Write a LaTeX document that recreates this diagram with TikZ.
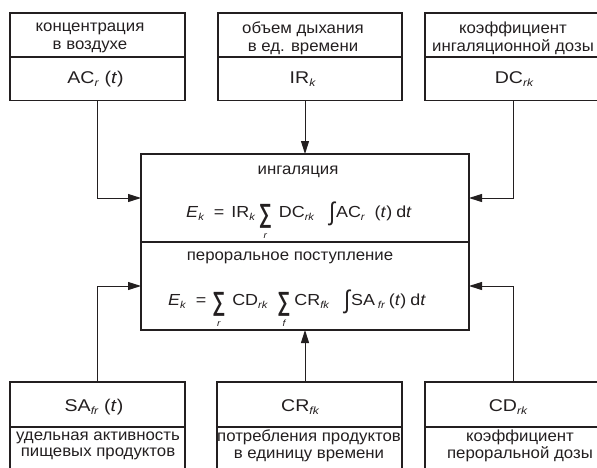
\documentclass[tikz,border=0pt]{standalone}
\usepackage{fontspec}
\setmainfont{Liberation Sans}[FakeStretch=1.05]
\newfontfamily\valfont{Liberation Sans}[FakeStretch=1.15]
\newfontfamily\frmfont{Liberation Sans}[FakeStretch=1.12]
\usepackage{graphicx}
\usetikzlibrary{arrows.meta}
\newcommand\sbv[1]{\raisebox{-3pt}{\fontsize{10.5}{10.5}\selectfont\itshape #1}}
\newcommand\sbf[1]{\raisebox{-3pt}{\fontsize{10}{10}\selectfont\itshape #1}}
\newcommand\Sm[1]{\raisebox{-11pt}{\resizebox{13pt}{24pt}{\raisebox{\depth}{\bfseries ∑}}}\llap{\makebox[13pt]{\raisebox{-21pt}{\fontsize{9}{9}\selectfont\itshape #1}}}}
\newcommand\Int{\raisebox{-9pt}{\resizebox{6pt}{24pt}{\raisebox{\depth}{∫}}}}
\definecolor{ink}{HTML}{231F20}
\tikzset{
  box/.style={draw=ink, line width=1.1pt, anchor=north west, inner sep=0pt, outer sep=0pt},
  lbl/.style={text=ink, font=\fontsize{16}{18}\selectfont, align=center, inner sep=0pt},
  lblb/.style={lbl, font=\fontsize{16}{16.5}\selectfont},
  val/.style={text=ink, font=\valfont\fontsize{17}{17}\selectfont, inner sep=0pt, anchor=base},
  frm/.style={text=ink, font=\frmfont\fontsize{16}{16}\selectfont, inner sep=0pt, anchor=base},
  con/.style={draw=ink, line width=1pt},
  arr/.style={con, -{Triangle[length=13pt,width=8pt]}},
}
\begin{document}
\begin{tikzpicture}[x=1pt, y=-1pt]
\useasboundingbox (0,0) rectangle (597,467);
% top boxes
\node[box, minimum width=175pt, minimum height=44pt] (tlt) at (10,13) {};
\node[box, minimum width=175pt, minimum height=43.5pt] (tlv) at (10,57) {};
\node[box, minimum width=184pt, minimum height=44pt] (tmt) at (218,13) {};
\node[box, minimum width=184pt, minimum height=43.5pt] (tmv) at (218,57) {};
\node[box, minimum width=176pt, minimum height=44pt] (trt) at (425,13) {};
\node[box, minimum width=176pt, minimum height=43.5pt] (trv) at (425,57) {};
% central
\node[box, minimum width=328pt, minimum height=88pt] (c1) at (141,154) {};
\node[box, minimum width=328pt, minimum height=88pt] (c2) at (141,242) {};
% bottom boxes
\node[box, minimum width=175pt, minimum height=45pt] (blv) at (10,382) {};
\node[box, minimum width=175pt, minimum height=45pt] (blt) at (10,427) {};
\node[box, minimum width=185pt, minimum height=45pt] (bmv) at (217,382) {};
\node[box, minimum width=185pt, minimum height=45pt] (bmt) at (217,427) {};
\node[box, minimum width=176pt, minimum height=45pt] (brv) at (425,382) {};
\node[box, minimum width=176pt, minimum height=45pt] (brt) at (425,427) {};
% texts top
\node[lbl] (l1) at (90,38) {концентрация\\в воздухе};
\node[lbl] (l2) at (303,38) {объем дыхания\\в ед. времени};
\node[lbl] (l3) at (513,38) {коэффициент\\ингаляционной дозы};
\node[val] (v1) at (95.5,83) {AC\sbv{r}\hspace{6pt}(\textit{t})};
\node[val] (v2) at (302.5,83) {IR\sbv{k}};
\node[val] (v3) at (514,83) {DC\sbv{rk}};
% texts central
\node[lbl] (l4) at (298,172) {ингаляция};
\node[frm] (f1) at (299,217) {\textit{E}\sbf{k}\hspace{10pt}=\hspace{7pt}IR\sbf{k}\hspace{4pt}\Sm{r}\hspace{7pt}DC\sbf{rk}\hspace{15pt}\Int\hspace{1pt}AC\sbf{r}\hspace{10pt}(\textit{t})\hspace{4pt}d\textit{t}};
\node[lbl] (l5) at (290,258) {пероральное поступление};
\node[frm] (f2) at (297,305) {\textit{E}\sbf{k}\hspace{10pt}=\hspace{6pt}\Sm{r}\hspace{7pt}CD\sbf{rk}\hspace{10pt}\Sm{f}\hspace{4pt}CR\sbf{fk}\hspace{15pt}\Int\hspace{1pt}SA\hspace{3pt}\sbf{fr}\hspace{4pt}(\textit{t})\hspace{4pt}d\textit{t}};
% texts bottom
\node[val] (v4) at (94,411) {SA\sbv{fr}\hspace{6pt}(\textit{t})};
\node[val] (v5) at (300,411) {CR\sbv{fk}};
\node[val] (v6) at (508,411) {CD\sbv{rk}};
\node[lblb] (l6) at (98,446) {удельная активность\\пищевых продуктов};
\node[lblb] (l7) at (309,446) {потребления продуктов\\в единицу времени};
\node[lblb] (l8) at (520,446) {коэффициент\\пероральной дозы};
% connectors
\draw[arr] (tlv.south) |- (c1.west);
\draw[arr] (c1.north |- tmv.south) -- (c1.north);
\draw[arr] (trv.south) |- (c1.east);
\draw[arr] (blv.north) |- (c2.west);
\draw[arr] (c2.south |- bmv.north) -- (c2.south);
\draw[arr] (brv.north) |- (c2.east);
\end{tikzpicture}
\end{document}
